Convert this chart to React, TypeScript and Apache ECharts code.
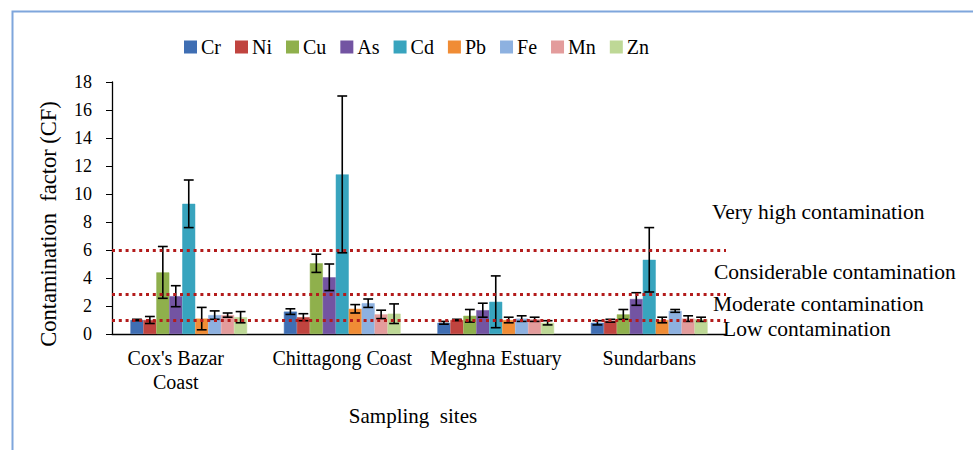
import React, { useEffect, useRef } from "react";
import * as echarts from "echarts";

const sites = ["Cox's Bazar\nCoast", "Chittagong Coast", "Meghna Estuary", "Sundarbans"];
const metals = ["Cr", "Ni", "Cu", "As", "Cd", "Pb", "Fe", "Mn", "Zn"];
const colors = ["#3F6EB3", "#C0443F", "#8FB04C", "#7354A2", "#38A4BE", "#F08C35", "#8DB1E0", "#E39C9C", "#BED896"];

// mean CF per metal, one value per site
const crMean = [1.0, 1.6, 0.8, 0.8];
const niMean = [1.0, 1.2, 1.0, 0.95];
const cuMean = [4.4, 5.05, 1.3, 1.4];
const asMean = [2.7, 4.05, 1.7, 2.5];
const cdMean = [9.3, 11.4, 2.3, 5.3];
const pbMean = [1.1, 1.8, 1.0, 1.0];
const feMean = [1.35, 2.2, 1.1, 1.65];
const mnMean = [1.35, 1.4, 1.05, 1.1];
const znMean = [1.2, 1.45, 0.8, 1.05];

// standard deviations (error bars)
const crSd = [0.05, 0.2, 0.1, 0.15];
const niSd = [0.25, 0.25, 0.05, 0.1];
const cuSd = [1.85, 0.65, 0.45, 0.35];
const asSd = [0.75, 0.95, 0.5, 0.45];
const cdSd = [1.7, 5.6, 1.85, 2.3];
const pbSd = [0.8, 0.3, 0.2, 0.2];
const feSd = [0.3, 0.3, 0.2, 0.1];
const mnSd = [0.15, 0.3, 0.15, 0.2];
const znSd = [0.4, 0.7, 0.15, 0.15];

const means = [crMean, niMean, cuMean, asMean, cdMean, pbMean, feMean, mnMean, znMean];
const sds = [crSd, niSd, cuSd, asSd, cdSd, pbSd, feSd, mnSd, znSd];

const thresholds = [1, 2.85, 6];
const thresholdLabels = ["Low contamination", "Moderate contamination", "Considerable contamination", "Very high contamination"];
const yTicks = { min: 0, max: 18, interval: 2 };

const FONT = "Liberation Serif";
const CAT_GAP = 0.24;

export default function App() {
  const ref = useRef<HTMLDivElement>(null);
  useEffect(() => {
    if (!ref.current) return;
    const chart = echarts.init(ref.current, null, { renderer: "svg" });

    const barSeries = metals.map((m, i) => ({
      name: m,
      type: "bar",
      data: means[i],
      barGap: "0%",
      barCategoryGap: CAT_GAP * 100 + "%",
      itemStyle: {
        color: colors[i],
        borderColor: colors[i],
        borderWidth: 0.5,
      },
      z: 2,
    }));

    const errData: number[][] = [];
    metals.forEach((m, k) => {
      sites.forEach((s, j) => {
        errData.push([j, means[k][j], sds[k][j], k]);
      });
    });

    const errSeries = {
      type: "custom",
      name: "err",
      data: errData,
      encode: { x: 0, y: 1 },
      z: 4,
      silent: true,
      renderItem: (params: any, api: any) => {
        const j = api.value(0);
        const mean = api.value(1);
        const sd = api.value(2);
        const k = api.value(3);
        const c = api.coord([j, mean]);
        const band = api.size([1, 0])[0];
        const groupW = band * (1 - CAT_GAP);
        const barW = groupW / metals.length;
        const x = c[0] - groupW / 2 + (k + 0.5) * barW;
        const yTop = api.coord([j, mean + sd])[1];
        const yBot = api.coord([j, mean - sd])[1];
        const cap = barW * 0.38;
        const st = { stroke: "#000", lineWidth: 1.6 };
        return {
          type: "group",
          children: [
            { type: "line", shape: { x1: x, y1: yTop, x2: x, y2: yBot }, style: st },
            { type: "line", shape: { x1: x - cap, y1: yTop, x2: x + cap, y2: yTop }, style: st },
            { type: "line", shape: { x1: x - cap, y1: yBot, x2: x + cap, y2: yBot }, style: st },
          ],
        };
      },
    };

    const refSeries = {
      type: "line",
      name: "thresholds",
      data: [],
      z: 5,
      silent: true,
      markLine: {
        silent: true,
        symbol: "none",
        label: { show: false },
        lineStyle: { color: "#B31B1B", width: 3, type: [3, 3.8] },
        data: thresholds.map((t) => ({ yAxis: t })),
      },
    };

    const annY = [329, 304, 272, 212];
    const annX = [723, 713, 714, 712];

    chart.setOption({
      animation: false,
      grid: { left: 112, right: 247, top: 82, bottom: 116 },
      legend: {
        data: metals,
        left: 179,
        top: 32,
        itemWidth: 11,
        itemHeight: 11,
        itemGap: 14,
        icon: "rect",
        textStyle: { fontFamily: FONT, fontSize: 20, color: "#000" },
      },
      xAxis: {
        type: "category",
        data: sites.map((s, i) =>
          i === 0 ? { value: s, textStyle: { padding: [0, 26, 0, 0], fontFamily: FONT } } : s
        ),
        axisLine: { lineStyle: { color: "#000", width: 1.3 } },
        axisTick: { show: false },
        axisLabel: { fontFamily: FONT, fontSize: 20, color: "#000", margin: 12, lineHeight: 24, interval: 0 },
        name: "Sampling  sites",
        nameLocation: "middle",
        nameGap: 71,
        nameTextStyle: { fontFamily: FONT, fontSize: 21, color: "#000", padding: [0, 12, 0, 0] },
      },
      yAxis: {
        type: "value",
        min: yTicks.min,
        max: yTicks.max,
        interval: yTicks.interval,
        axisLine: { show: true, lineStyle: { color: "#000", width: 1.3 } },
        axisTick: { show: true, inside: false, length: 6, lineStyle: { color: "#000" } },
        splitLine: { show: false },
        axisLabel: { fontFamily: FONT, fontSize: 18, color: "#000", margin: 20 },
      },
      graphic: [
        {
          type: "rect",
          left: 10,
          top: 9,
          shape: { x: 0, y: 0, width: 1000, height: 500 },
          style: { fill: "none", stroke: "#7FA6DC", lineWidth: 2 },
          silent: true,
          z: -1,
        },
        {
          type: "text",
          x: 48,
          y: 224,
          rotation: Math.PI / 2,
          style: {
            text: "Contamination  factor (CF)",
            fontFamily: FONT,
            fontSize: 22.5,
            fill: "#000",
            align: "center",
            verticalAlign: "middle",
          },
        },
        ...thresholdLabels.map((t, i) => ({
          type: "text",
          x: annX[i],
          y: annY[i],
          style: {
            text: t,
            fontFamily: FONT,
            fontSize: 21.5,
            fill: "#000",
            verticalAlign: "middle",
          },
          z: 10,
        })),
      ],
      series: [...barSeries, errSeries, refSeries],
    });

    return () => chart.dispose();
  }, []);

  return (
    <div
      ref={ref}
      style={{ position: "fixed", left: 0, top: 0, width: 973, height: 450, background: "#fff" }}
    />
  );
}
